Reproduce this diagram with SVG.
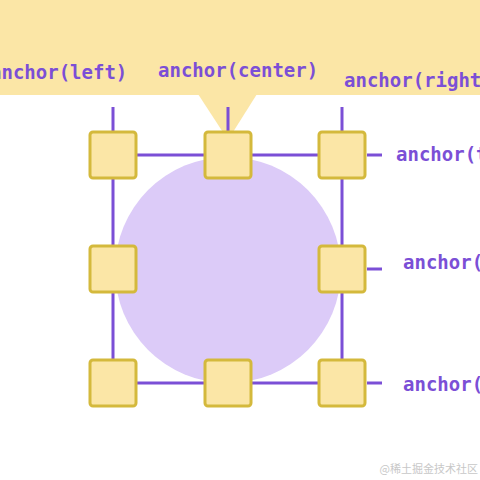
<svg xmlns="http://www.w3.org/2000/svg" width="480" height="480" viewBox="0 0 480 480">
<style>
.lbl{font-family:"DejaVu Sans Mono","Liberation Mono",monospace;font-size:19px;fill:#7b4fd6;font-weight:bold}
.sq{fill:#fbe6a6;stroke:#d4b93c;stroke-width:3}
.ln{stroke:#7b4fd6;stroke-width:3;fill:none}
</style>
<rect width="480" height="480" fill="#ffffff"/>
<g id="banner">
<rect x="0" y="0" width="480" height="95" fill="#fbe6a6"/>
<polygon points="198,94 257,94 228,140" fill="#fbe6a6"/>
</g>
<g id="circle"><circle cx="228" cy="270" r="113" fill="#dccbf8"/></g>
<g id="connectors" class="ln">
<rect x="113" y="155" width="229" height="228"/>
<line x1="113" y1="107" x2="113" y2="132"/>
<line x1="228" y1="107" x2="228" y2="132"/>
<line x1="342" y1="107" x2="342" y2="132"/>
<line x1="367" y1="155" x2="382" y2="155"/>
<line x1="367" y1="269" x2="382" y2="269"/>
<line x1="367" y1="383" x2="382" y2="383"/>
</g>
<g id="n-tl"><rect class="sq" x="90" y="132" width="46" height="46" rx="3"/></g>
<g id="n-tc"><rect class="sq" x="205" y="132" width="46" height="46" rx="3"/></g>
<g id="n-tr"><rect class="sq" x="319" y="132" width="46" height="46" rx="3"/></g>
<g id="n-ml"><rect class="sq" x="90" y="246" width="46" height="46" rx="3"/></g>
<g id="n-mr"><rect class="sq" x="319" y="246" width="46" height="46" rx="3"/></g>
<g id="n-bl"><rect class="sq" x="90" y="360" width="46" height="46" rx="3"/></g>
<g id="n-bc"><rect class="sq" x="205" y="360" width="46" height="46" rx="3"/></g>
<g id="n-br"><rect class="sq" x="319" y="360" width="46" height="46" rx="3"/></g>
<g id="labels">
<text class="lbl" x="-10" y="79">anchor(left)</text>
<text class="lbl" x="158" y="77">anchor(center)</text>
<text class="lbl" x="344" y="87">anchor(right</text>
<text class="lbl" x="396" y="161">anchor(t</text>
<text class="lbl" x="403" y="269">anchor(</text>
<text class="lbl" x="403" y="391">anchor(</text>
</g>
<text x="478" y="473" text-anchor="end" font-family="'Noto Sans CJK SC',sans-serif" font-size="11" fill="#c8c8c8">@稀土掘金技术社区</text>
</svg>
